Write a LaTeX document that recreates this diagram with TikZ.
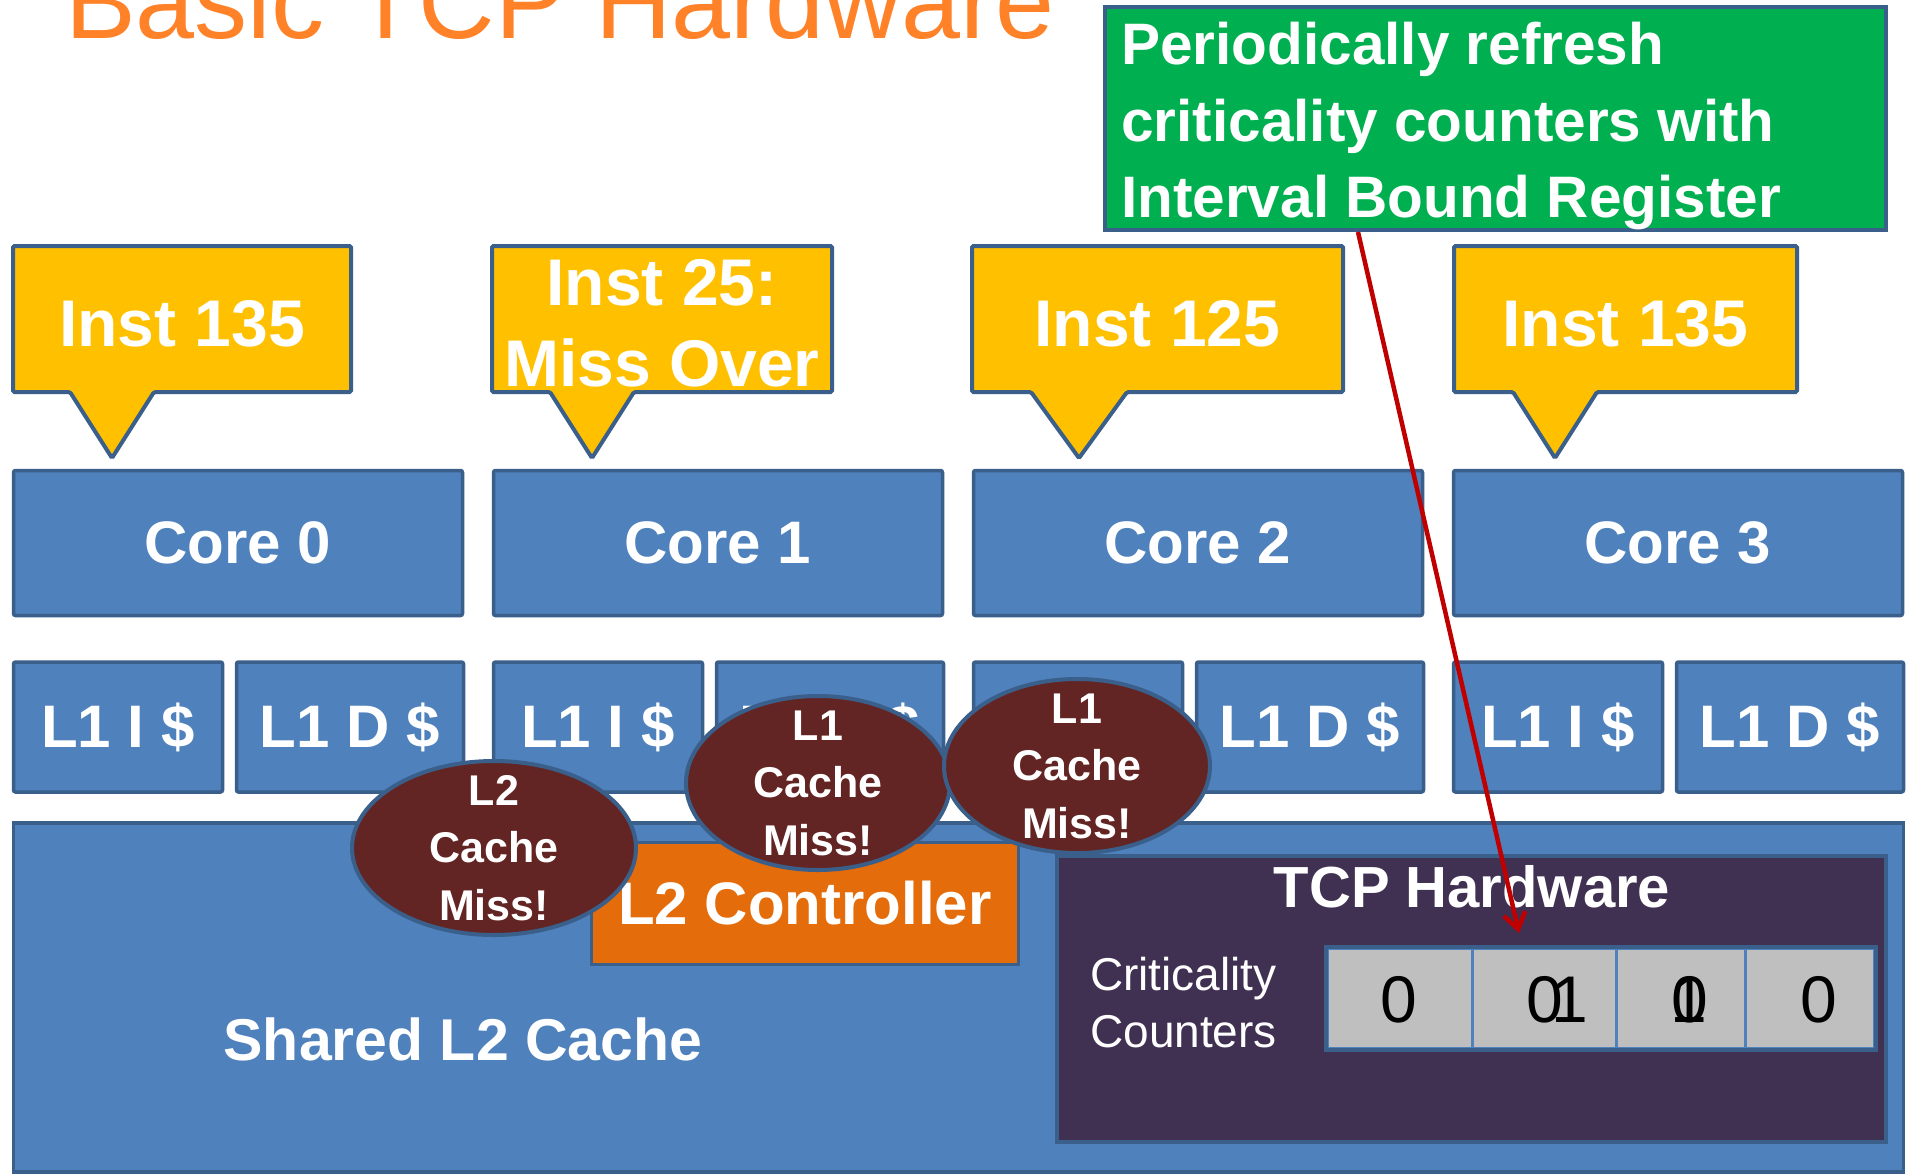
\documentclass[tikz,border=0pt]{standalone}
\usepackage{fontspec}
\setmainfont{Liberation Sans}
\usepackage{tikz}
\usetikzlibrary{
  arrows.meta,
  positioning,
  shapes.geometric
}
\definecolor{coreblue}{HTML}{4F81BD}
\definecolor{edgeblue}{HTML}{3A5F8B}
\definecolor{instyellow}{HTML}{FFC000}
\definecolor{titleorange}{HTML}{FF8128}
\definecolor{ctrlorange}{HTML}{E46C0A}
\definecolor{missred}{HTML}{632523}
\definecolor{tcppurple}{HTML}{403152}
\definecolor{cellgrey}{HTML}{BFBFBF}
\definecolor{refreshgreen}{HTML}{00B050}
\definecolor{arrowred}{HTML}{C00000}
\tikzset{
  titletext/.style={
    inner sep=0pt, text=titleorange, font=\fontsize{106}{127}\selectfont
  },
  corebox/.style={
    rectangle, rounded corners=2pt, draw=edgeblue, fill=coreblue,
    line width=3.5pt, minimum width=449pt, minimum height=145pt,
    inner sep=0pt, text=white, font=\fontsize{60}{72}\selectfont\bfseries
  },
  cachebox/.style={
    corebox, minimum height=130pt
  },
  l2box/.style={
    rectangle, draw=edgeblue, fill=coreblue, line width=3.5pt,
    minimum width=1890pt, minimum height=349pt
  },
  l2label/.style={
    inner sep=0pt, text=white, font=\fontsize{59}{71}\selectfont\bfseries
  },
  ctrlbox/.style={
    rectangle, draw=edgeblue, fill=ctrlorange, line width=3pt,
    minimum width=427pt, minimum height=122pt, inner sep=0pt,
    text=white, font=\fontsize{60}{72}\selectfont\bfseries
  },
  tcpbox/.style={
    rectangle, draw=edgeblue, fill=tcppurple, line width=4pt,
    minimum width=829pt, minimum height=286pt
  },
  tcptitle/.style={
    inner sep=0pt, text=white, font=\fontsize{58}{70}\selectfont\bfseries
  },
  countlabel/.style={
    inner sep=0pt, align=left, text=white, font=\fontsize{46}{57}\selectfont
  },
  cellbox/.style={
    rectangle, draw=coreblue, fill=cellgrey, line width=3pt,
    minimum height=100pt
  },
  cellframe/.style={
    draw=edgeblue, line width=4pt
  },
  countdigit/.style={
    inner sep=0pt, text=black, font=\fontsize{66}{79}\selectfont
  },
  instcallout/.style={
    draw=edgeblue, fill=instyellow, line width=4pt, rounded corners=1.5pt
  },
  insttext/.style={
    inner sep=0pt, align=center, text=white,
    font=\fontsize{66}{81}\selectfont\bfseries
  },
  missbubble/.style={
    ellipse, draw=edgeblue, fill=missred, line width=4pt,
    minimum height=174pt, inner sep=0pt
  },
  misstext/.style={
    inner sep=0pt, align=center, text=white,
    font=\fontsize{43}{57.5}\selectfont\bfseries
  },
  notebox/.style={
    rectangle, draw=edgeblue, fill=refreshgreen, line width=4pt,
    minimum width=781pt, minimum height=223pt
  },
  notetext/.style={
    inner sep=0pt, align=left, text=white,
    font=\fontsize{58.5}{76.5}\selectfont\bfseries
  },
  refresharrow/.style={
    -{Straight Barb[length=16pt,width=22pt]}, line width=4.5pt, color=arrowred
  },
}
\begin{document}
\begin{tikzpicture}[x=1pt, y=-1pt]
  \useasboundingbox (0,0) rectangle (1913,1175);
  \clip (0,0) rectangle (1913,1175);
  \fill[white] (0,0) rectangle (1913,1175);

  %% Title (cut by the top edge)
  \node[titletext, anchor=base west] (title) at (65,38) {Basic TCP Hardware};

  %% Shared L2
  \node[l2box] (l2) at (958.5,997.5) {};
  \node[l2label] (l2name) at (463,1039) {Shared L2 Cache};
  \node[ctrlbox] (ctrl) at (805,903.5) {L2 Controller};

  %% TCP hardware
  \node[tcpbox] (tcp) at (1471.5,999) {};
  \node[tcptitle, anchor=base] (tcpname) at (1472,907) {TCP Hardware};
  \node[countlabel, anchor=north west] (critlabel) at (1090,956.5) {Criticality\\Counters};
  \foreach \i/\x/\w in {0/1399.5/145, 1/1544/144, 2/1680.5/129, 3/1809.5/129}
    \node[cellbox, minimum width=\w pt] (cell\i) at (\x,998) {};
  \draw[cellframe] (cell0.north west) rectangle (cell3.south east);
  \foreach \n/\x/\d in {0/1399/0, 1a/1545/0, 1b/1570/1, 2a/1690/0, 2b/1689/1, 3/1819/0}
    \node[countdigit] (digit\n) at (\x,1000) {\d};

  %% Cores and L1 caches
  \foreach \i in {0,...,3} {
    \node[corebox] (core\i) at (238+480*\i,543) {Core \i};
    \node[cachebox, minimum width=209pt] (icache\i) at (118+480*\i,727) {L1 I \$};
    \node[cachebox, minimum width=227pt] (dcache\i) at (350+480*\i,727) {L1 D \$};
  }

  %% Instruction callouts
  \foreach \i/\lft/\rgt/\tip/\hw/\txt in {0/13/351/112/42/{Inst 135},
      1/492/832/592/42/{Inst 25:\\Miss Over}, 2/972/1343/1079/48/{Inst 125},
      3/1454/1797/1555/42/{Inst 135}} {
    \draw[instcallout] (\lft,246) -- (\rgt,246) -- (\rgt,392) -- (\tip+\hw,392)
      -- (\tip,458) -- (\tip-\hw,392) -- (\lft,392) -- cycle;
    \node[insttext] (inst\i) at ({(\lft+\rgt)/2},323.5) {\txt};
  }

  %% Cache miss bubbles
  \node[missbubble, minimum width=284pt] (miss2) at (494,848) {};
  \node[misstext] (misstxt2) at (miss2) {L2\\Cache\\Miss!};
  \node[missbubble, minimum width=264pt] (miss1a) at (818,783) {};
  \node[misstext] (misstxt1a) at (miss1a) {L1\\Cache\\Miss!};
  \node[missbubble, minimum width=266pt] (miss1b) at (1077,766) {};
  \node[misstext] (misstxt1b) at (miss1b) {L1\\Cache\\Miss!};

  %% Refresh note
  \node[notebox] (refresh) at (1495.5,118.5) {};
  \node[notetext, anchor=north west] (refreshtext) at (1121,22.4)
    {Periodically refresh\\criticality counters with\\Interval Bound Register};
  \coordinate (ctrtip) at (1519,933);
  \draw[refresharrow] ([xshift=255pt]refresh.south west) -- (ctrtip);
\end{tikzpicture}
\end{document}
